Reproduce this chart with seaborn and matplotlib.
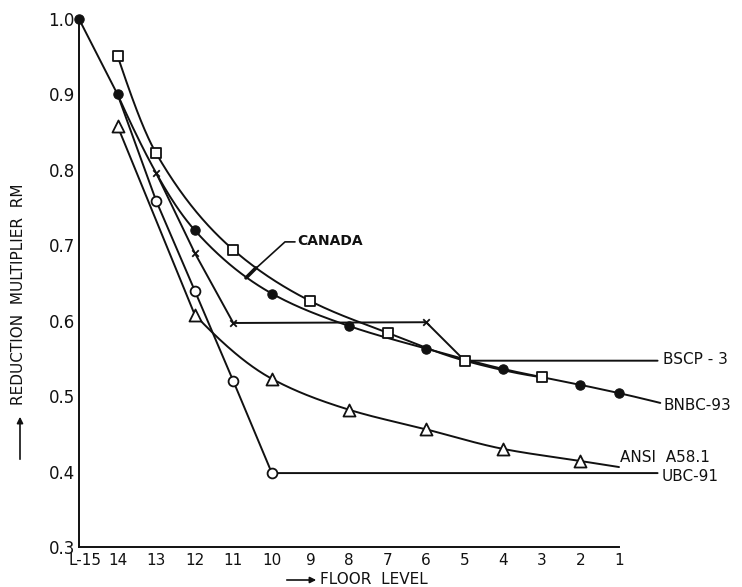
import numpy as np
import pandas as pd
import matplotlib
matplotlib.use("Agg")
import matplotlib.pyplot as plt
import matplotlib.transforms as mtransforms
import seaborn as sns

# ---------------- data ----------------
floor_ticks = [15, 14, 13, 12, 11, 10, 9, 8, 7, 6, 5, 4, 3, 2, 1]
tick_labels = ["L-15", "14", "13", "12", "11", "10", "9", "8", "7", "6", "5", "4", "3", "2", "1"]
y_ticks = [0.3, 0.4, 0.5, 0.6, 0.7, 0.8, 0.9, 1.0]
y_tick_labels = ["0.3", "0.4", "0.5", "0.6", "0.7", "0.8", "0.9", "1.0"]

bnbc_floor = [15, 14, 12, 10, 8, 6, 4, 2, 1]
bnbc_rm = [1.0, 0.90, 0.72, 0.636, 0.593, 0.563, 0.536, 0.515, 0.504]
bnbc_end_floor, bnbc_end_rm = -0.07, 0.491

canada_floor = [14, 13, 11, 9, 7, 5, 3]
canada_rm = [0.951, 0.822, 0.694, 0.626, 0.584, 0.547, 0.525]

bscp_floor = [13, 12, 11, 6, 5]
bscp_rm = [0.796, 0.690, 0.597, 0.598, 0.547]
bscp_end_floor, bscp_end_rm = 0.0, 0.547

ubc_floor = [14, 13, 12, 11, 10]
ubc_rm = [0.90, 0.759, 0.640, 0.520, 0.398]
ubc_end_floor, ubc_end_rm = 0.0, 0.398

ansi_floor = [14, 12, 10, 8, 6, 4, 2]
ansi_rm = [0.858, 0.608, 0.523, 0.482, 0.456, 0.430, 0.414]
ansi_end_floor, ansi_end_rm = 1.0, 0.406


def _end_slope(h0, h1, d0, d1):
    m = ((2 * h0 + h1) * d0 - h0 * d1) / (h0 + h1)
    if np.sign(m) != np.sign(d0):
        return 0.0
    if np.sign(d0) != np.sign(d1) and abs(m) > abs(3 * d0):
        return 3 * d0
    return m


def smooth(xk, yk, n=40):
    """Monotone cubic (PCHIP) rendering of a curve through the given points."""
    t = -np.asarray(xk, float)
    y = np.asarray(yk, float)
    h = np.diff(t)
    d = np.diff(y) / h
    m = np.zeros_like(t)
    if len(t) > 2:
        m[0] = _end_slope(h[0], h[1], d[0], d[1])
        m[-1] = _end_slope(h[-1], h[-2], d[-1], d[-2])
    else:
        m[0], m[-1] = d[0], d[-1]
    for k in range(1, len(t) - 1):
        if d[k - 1] * d[k] <= 0:
            m[k] = 0.0
        else:
            w1 = 2 * h[k] + h[k - 1]
            w2 = h[k] + 2 * h[k - 1]
            m[k] = (w1 + w2) / (w1 / d[k - 1] + w2 / d[k])
    ts, ys = [], []
    for k in range(len(t) - 1):
        s = np.linspace(0, 1, n, endpoint=(k == len(t) - 2))
        h00 = 2 * s**3 - 3 * s**2 + 1
        h10 = s**3 - 2 * s**2 + s
        h01 = -2 * s**3 + 3 * s**2
        h11 = s**3 - s**2
        ts.append(t[k] + s * h[k])
        ys.append(h00 * y[k] + h10 * h[k] * m[k] + h01 * y[k + 1] + h11 * h[k] * m[k + 1])
    return -np.concatenate(ts), np.concatenate(ys)


sns.set_theme(style="white")
plt.rcParams["font.family"] = ["DejaVu Sans"]

W, H = 742, 587
fig = plt.figure(figsize=(W / 100, H / 100), dpi=100)
ax = fig.add_axes([79 / W, 1 - 547 / H, (619 - 79) / W, (547 - 19) / H])

lw = 1.4
ink = "#111111"

curves = []
# BNBC: straight first leg, then smooth
bx, by = smooth(bnbc_floor[1:] + [bnbc_end_floor], bnbc_rm[1:] + [bnbc_end_rm])
curves.append((np.concatenate([[bnbc_floor[0]], bx]), np.concatenate([[bnbc_rm[0]], by])))
cx, cy = smooth(canada_floor, canada_rm)
curves.append((cx, cy))
# ANSI: straight first leg, then smooth
ax_, ay_ = smooth(ansi_floor[1:] + [ansi_end_floor], ansi_rm[1:] + [ansi_end_rm])
curves.append((np.concatenate([[ansi_floor[0]], ax_]), np.concatenate([[ansi_rm[0]], ay_])))
# straight segments
curves.append((np.array(bscp_floor + [bscp_end_floor], float),
               np.array(bscp_rm + [bscp_end_rm], float)))
curves.append((np.array(ubc_floor + [ubc_end_floor], float),
               np.array(ubc_rm + [ubc_end_rm], float)))

for xs, ys in curves:
    df = pd.DataFrame({"floor": xs, "rm": ys})
    sns.lineplot(data=df, x="floor", y="rm", sort=False, estimator=None,
                 color=ink, lw=lw, ax=ax, zorder=2)

# markers
mk = dict(ax=ax, zorder=4, legend=False)
sns.scatterplot(x=bnbc_floor, y=bnbc_rm, marker="o", s=45, color=ink,
                edgecolor=ink, linewidth=0.8, **mk)
sns.scatterplot(x=canada_floor, y=canada_rm, marker="s", s=55, color="white",
                edgecolor=ink, linewidth=1.3, **mk)
sns.scatterplot(x=bscp_floor[:4], y=bscp_rm[:4], marker="x", s=22, color=ink,
                linewidth=1.3, **mk)
sns.scatterplot(x=ubc_floor[1:], y=ubc_rm[1:], marker="o", s=50, color="white",
                edgecolor=ink, linewidth=1.3, **mk)
sns.scatterplot(x=ansi_floor, y=ansi_rm, marker="^", s=75, color="white",
                edgecolor=ink, linewidth=1.3, **mk)

for art in ax.lines + ax.collections:
    art.set_clip_on(False)

ax.set_xlim(15, 1)
ax.set_ylim(0.3, 1.0)
ax.set_xticks(floor_ticks)
ax.set_xticklabels(tick_labels, fontsize=11)
ax.set_yticks(y_ticks)
ax.set_yticklabels(y_tick_labels, fontsize=12)
ax.tick_params(axis="both", direction="in", length=8, width=1.3, color=ink,
               labelcolor=ink, pad=4)
ax.tick_params(axis="y", pad=3)
first = ax.get_xticklabels()[0]
first.set_transform(first.get_transform() +
                    mtransforms.ScaledTranslation(6 / 100, 0, fig.dpi_scale_trans))
ax.set_xlabel("")
ax.set_ylabel("")
for sp in ["top", "right"]:
    ax.spines[sp].set_visible(False)
for sp in ["left", "bottom"]:
    ax.spines[sp].set_color(ink)
    ax.spines[sp].set_linewidth(1.4)
ax.set_facecolor("white")
fig.patch.set_facecolor("white")


def fx(px):
    return 1 + (619 - px) / 38.57


def fy(py):
    return 0.3 + (547 - py) / 754.0


# right-hand curve labels
lab = dict(fontsize=11, color=ink, va="center", ha="left", clip_on=False)
ax.text(fx(663), 0.549, "BSCP - 3", **lab)
ax.text(fx(663), 0.488, "BNBC-93", **lab)
ax.text(fx(620), 0.418, "ANSI  A58.1", **lab)
ax.text(fx(662), 0.393, "UBC-91", **lab)

# CANADA label with pointer
ax.text(fx(297), fy(241), "CANADA", fontsize=10, fontweight="bold",
        color=ink, va="center", ha="left")
ax.add_line(plt.Line2D([fx(295), fx(285), fx(252)],
                       [fy(242), fy(242), fy(272)], color=ink, lw=1.2))
ax.add_line(plt.Line2D([fx(246), fx(256)], [fy(278), fy(268)],
                       color=ink, lw=2.6))

# axis titles with arrows
fig.text(320 / W, 1 - 580 / H, "FLOOR  LEVEL", fontsize=11, color=ink,
         ha="left", va="center")
fig.add_artist(matplotlib.patches.FancyArrowPatch(
    (284 / W, 1 - 580 / H), (319 / W, 1 - 580 / H), transform=fig.transFigure,
    arrowstyle="-|>", mutation_scale=9, color=ink, lw=1.2))
fig.text(19 / W, 1 - 294 / H, "REDUCTION  MULTIPLIER  RM", fontsize=11,
         color=ink, rotation=90, ha="center", va="center")
fig.add_artist(matplotlib.patches.FancyArrowPatch(
    (20 / W, 1 - 462 / H), (20 / W, 1 - 414 / H), transform=fig.transFigure,
    arrowstyle="-|>", mutation_scale=9, color=ink, lw=1.2))

fig.savefig("out.png", dpi=100, facecolor="white")
